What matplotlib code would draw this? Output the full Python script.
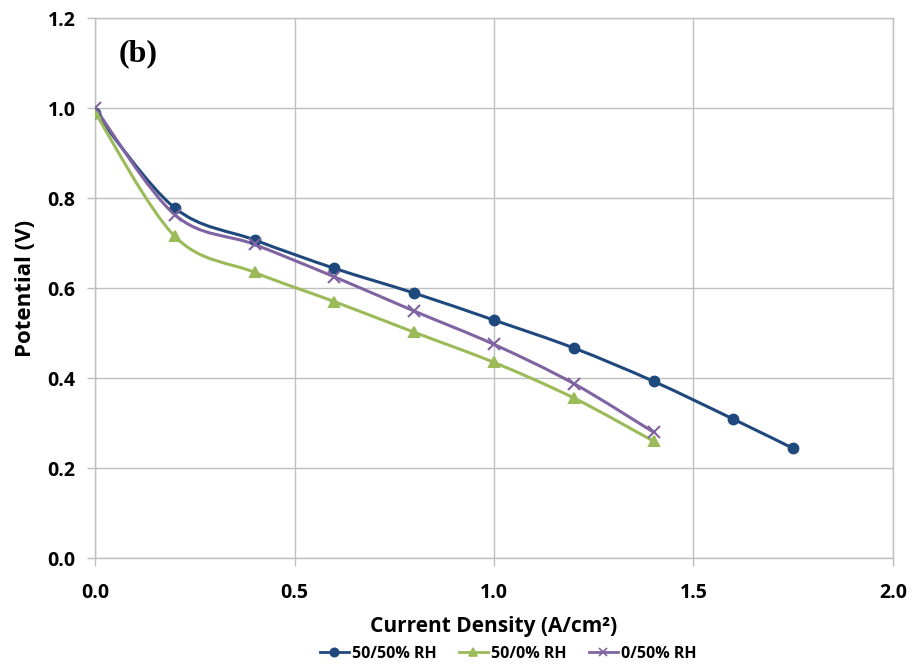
import numpy as np
import matplotlib
matplotlib.use('Agg')
import matplotlib.pyplot as plt
from matplotlib.path import Path
from matplotlib.patches import PathPatch
from matplotlib.lines import Line2D

# data
x_blue = [0.0, 0.2, 0.4, 0.6, 0.8, 1.0, 1.2, 1.4, 1.6, 1.75]
y_blue = [0.99, 0.778, 0.707, 0.644, 0.589, 0.529, 0.467, 0.393, 0.309, 0.244]
x_green = [0.0, 0.2, 0.4, 0.6, 0.8, 1.0, 1.2, 1.4]
y_green = [0.99, 0.715, 0.635, 0.570, 0.502, 0.435, 0.356, 0.260]
x_purple = [0.0, 0.2, 0.4, 0.6, 0.8, 1.0, 1.2, 1.4]
y_purple = [1.0, 0.763, 0.697, 0.625, 0.549, 0.475, 0.388, 0.280]
labels = ['50/50% RH', '50/0% RH', '0/50% RH']
colors = ['#1F497D', '#9BBB59', '#8064A2']
markers = ['o', '^', 'x']

plt.rcParams['font.family'] = ['Open Sans', 'DejaVu Sans']

fig = plt.figure(figsize=(9.14, 6.67), dpi=100)
ax = fig.add_axes([0.104, 0.163, 0.873, 0.81])

def smooth_path(xs, ys, t=1/6):
    # excel-like smoothed line as bezier segments through the data points
    p = np.column_stack([xs, ys])
    verts = [p[0]]
    codes = [Path.MOVETO]
    n = len(p)
    for i in range(n - 1):
        p0 = p[i - 1] if i > 0 else p[i]
        p3 = p[i + 2] if i + 2 < n else p[i + 1]
        c1 = p[i] + (p[i + 1] - p0) * t
        c2 = p[i + 1] - (p3 - p[i]) * t
        verts += [c1, c2, p[i + 1]]
        codes += [Path.CURVE4] * 3
    return Path(verts, codes)

series = [(x_blue, y_blue), (x_green, y_green), (x_purple, y_purple)]
handles = []
for (xs, ys), c, m, lab in zip(series, colors, markers, labels):
    ax.add_patch(PathPatch(smooth_path(xs, ys), facecolor='none', edgecolor=c,
                           lw=2.2, zorder=3))
    ms = 7 if m != 'x' else 8
    ax.plot(xs, ys, ls='none', marker=m, color=c, ms=ms, mew=1.5, zorder=4)
    handles.append(Line2D([], [], color=c, lw=2.0, marker=m, ms=6, mew=1.2))

ax.set_xlim(0, 2.0)
ax.set_ylim(0, 1.2)
ax.set_xticks(np.arange(0, 2.01, 0.5))
ax.set_yticks(np.arange(0, 1.21, 0.2))
ax.set_xticklabels(['%.1f' % v for v in np.arange(0, 2.01, 0.5)])
ax.set_yticklabels(['%.1f' % v for v in np.arange(0, 1.21, 0.2)])
ax.grid(True, color='#bfbfbf', lw=1.0)
ax.set_axisbelow(True)
for s in ax.spines.values():
    s.set_color('#bfbfbf')
    s.set_linewidth(1.0)
ax.tick_params(length=6, width=1.0, color='#bfbfbf', labelsize=14)
ax.tick_params(axis='y', pad=8)
ax.tick_params(axis='x', pad=12)
for lbl in ax.get_xticklabels() + ax.get_yticklabels():
    lbl.set_fontweight('bold')

ax.set_xlabel('Current Density (A/cm²)', fontsize=15, fontweight='bold', labelpad=9)
ax.set_ylabel('Potential (V)', fontsize=16, fontweight='bold', labelpad=8)

ax.text(0.06, 1.12, '(b)', fontsize=23, fontweight='bold', family='Liberation Serif',
        va='center', ha='left')

fig.legend(handles, labels, loc='center', bbox_to_anchor=(0.556, 0.02), ncol=3,
           frameon=False, handlelength=1.8, columnspacing=1.4,
           handletextpad=0.2, prop={'weight': 'bold', 'size': 11.5})

fig.savefig('out.png', dpi=100)
